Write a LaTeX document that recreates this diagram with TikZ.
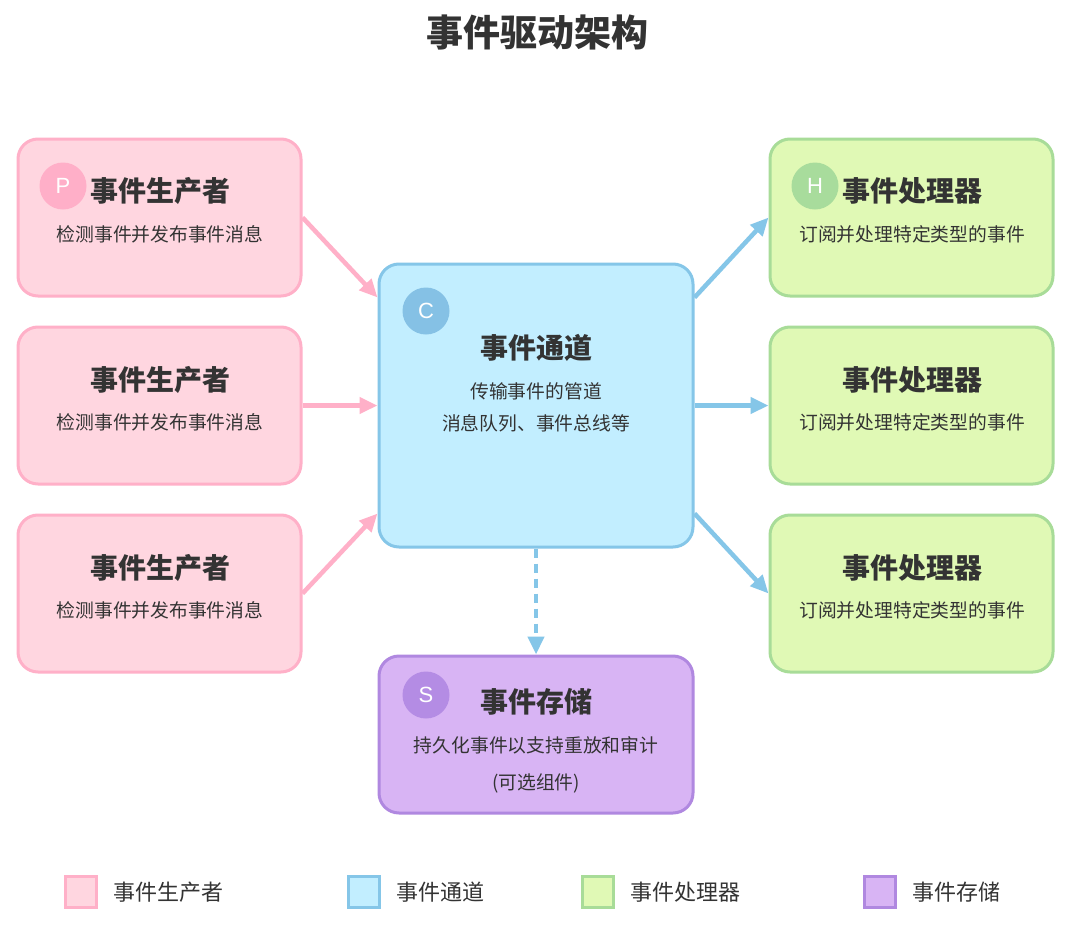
\documentclass[tikz,border=0pt]{standalone}
\usepackage{fontspec}
\setmainfont{Noto Sans CJK SC}
\newfontfamily\badgefont{Liberation Sans}
\usetikzlibrary{arrows.meta}
\definecolor{txt}{HTML}{333333}
\definecolor{pfill}{HTML}{FFD6E0}
\definecolor{pline}{HTML}{FFB0C8}
\definecolor{pcirc}{HTML}{FFAFC8}
\definecolor{cfill}{HTML}{C2EEFF}
\definecolor{cline}{HTML}{85C6E8}
\definecolor{ccirc}{HTML}{85C1E5}
\definecolor{hfill}{HTML}{E0F9B5}
\definecolor{hline}{HTML}{A8DC98}
\definecolor{hcirc}{HTML}{A8DC9C}
\definecolor{sfill}{HTML}{D8B4F4}
\definecolor{sline}{HTML}{B088E0}
\definecolor{scirc}{HTML}{B48CE4}
\tikzset{
  basebox/.style={rectangle, rounded corners=20pt, line width=3pt, inner sep=0pt},
  pbox/.style={basebox, fill=pfill, draw=pline, minimum width=283pt, minimum height=157pt},
  hbox/.style={basebox, fill=hfill, draw=hline, minimum width=283pt, minimum height=157pt},
  cbox/.style={basebox, fill=cfill, draw=cline, minimum width=314pt, minimum height=283pt},
  sbox/.style={basebox, fill=sfill, draw=sline, minimum width=314pt, minimum height=157pt},
  badge/.style={circle, minimum size=47pt, inner sep=0pt, text=white, font=\fontsize{22}{24}\selectfont\badgefont},
  ttl/.style={text=txt, font=\fontsize{28}{30}\selectfont\bfseries, inner sep=0pt},
  sub/.style={text=txt, font=\fontsize{18.8}{21}\selectfont, inner sep=0pt},
  lgbox/.style={rectangle, line width=3pt, minimum size=31pt, inner sep=0pt},
  lgtxt/.style={text=txt, font=\fontsize{22}{24}\selectfont, inner sep=0pt, anchor=west},
  parrow/.style={draw=pline, line width=4.5pt, -{Triangle[length=18pt,width=16pt]}},
  carrow/.style={draw=cline, line width=4.5pt, -{Triangle[length=18pt,width=16pt]}},
}
\begin{document}
\begin{tikzpicture}[x=1pt,y=-1pt]
\useasboundingbox[fill=white] (0,0) rectangle (1080,929);
\node[text=txt, font=\fontsize{37}{40}\selectfont\bfseries, inner sep=0pt] (title) at (537,32) {事件驱动架构};

% producers
\node[pbox] (p1) at (159.5,217.5) {};
\node[pbox] (p2) at (159.5,405.5) {};
\node[pbox] (p3) at (159.5,593.5) {};
\node[badge, fill=pcirc] (pb) at (63,186) {P};
\node[ttl] (p1t) at (160,191) {事件生产者};
\node[sub] (p1s) at (160,234) {检测事件并发布事件消息};
\node[ttl] (p2t) at (160,380) {事件生产者};
\node[sub] (p2s) at (160,422) {检测事件并发布事件消息};
\node[ttl] (p3t) at (160,568) {事件生产者};
\node[sub] (p3s) at (160,610) {检测事件并发布事件消息};

% channel
\node[cbox] (c) at (536,405.5) {};
\node[badge, fill=ccirc] (cb) at (426,311) {C};
\node[ttl] (ct) at (536,348) {事件通道};
\node[sub] (cs1) at (536,391) {传输事件的管道};
\node[sub] (cs2) at (536,423) {消息队列、事件总线等};

% handlers
\node[hbox] (h1) at (911.5,217.5) {};
\node[hbox] (h2) at (911.5,405.5) {};
\node[hbox] (h3) at (911.5,593.5) {};
\node[badge, fill=hcirc] (hb) at (815,186) {H};
\node[ttl] (h1t) at (912,191) {事件处理器};
\node[sub] (h1s) at (912,234) {订阅并处理特定类型的事件};
\node[ttl] (h2t) at (912,380) {事件处理器};
\node[sub] (h2s) at (912,422) {订阅并处理特定类型的事件};
\node[ttl] (h3t) at (912,568) {事件处理器};
\node[sub] (h3s) at (912,610) {订阅并处理特定类型的事件};

% storage
\node[sbox] (s) at (536,734.5) {};
\node[badge, fill=scirc] (sb) at (426,695) {S};
\node[ttl] (st) at (536,702) {事件存储};
\node[sub] (ss1) at (536,745) {持久化事件以支持重放和审计};
\node[sub] (ss2) at (536,783) {(可选组件)};

% arrows
\draw[parrow] (p1.east) -- (c.west |- p1.south);
\draw[parrow] (p2.east) -- (c.west |- p2.east);
\draw[parrow] (p3.east) -- (c.west |- p3.north);
\draw[carrow] (c.east |- h1.south) -- (h1.west);
\draw[carrow] (c.east |- h2.west) -- (h2.west);
\draw[carrow] (c.east |- h3.north) -- (h3.west);
\draw[carrow, dash pattern=on 9pt off 6pt] (c.south) -- (s.north);

% legend
\node[lgbox, fill=pfill, draw=pline] (l1) at (81,892) {};
\node[lgtxt] (l1t) at (113,892) {事件生产者};
\node[lgbox, fill=cfill, draw=cline] (l2) at (364,892) {};
\node[lgtxt] (l2t) at (396,892) {事件通道};
\node[lgbox, fill=hfill, draw=hline] (l3) at (598,892) {};
\node[lgtxt] (l3t) at (630,892) {事件处理器};
\node[lgbox, fill=sfill, draw=sline] (l4) at (880,892) {};
\node[lgtxt] (l4t) at (912,892) {事件存储};
\end{tikzpicture}
\end{document}
